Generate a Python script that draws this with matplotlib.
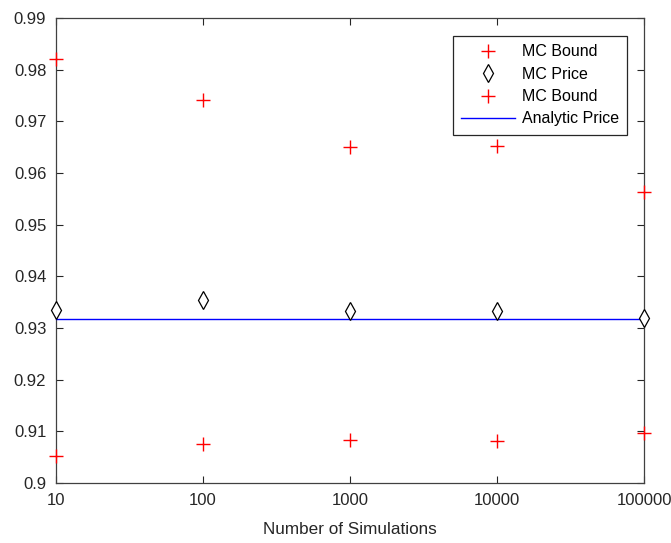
import numpy as np
import matplotlib.pyplot as plt
from matplotlib.ticker import FixedLocator, FixedFormatter, NullLocator

plt.rcParams['font.family'] = ['Liberation Sans', 'DejaVu Sans']

# data
n_sims = [10, 100, 1000, 10000, 100000]
upper_bound = [0.9820, 0.9741, 0.9650, 0.9653, 0.9563]
mc_price = [0.93355, 0.93542, 0.93335, 0.93335, 0.93187]
lower_bound = [0.9052, 0.9076, 0.9084, 0.9082, 0.9097]
analytic_price = 0.93168

xticks = [10, 100, 1000, 10000, 100000]
xtick_labels = ['10', '100', '1000', '10000', '100000']
yticks = [0.9, 0.91, 0.92, 0.93, 0.94, 0.95, 0.96, 0.97, 0.98, 0.99]
ytick_labels = ['0.9', '0.91', '0.92', '0.93', '0.94', '0.95', '0.96', '0.97', '0.98', '0.99']

fig = plt.figure(figsize=(6.71, 5.43), dpi=100)
ax = fig.add_axes([0.0835, 0.1105, 0.8765, 0.8564])

ax.plot(n_sims, upper_bound, '+', color='red', markersize=10, markeredgewidth=1.0,
        clip_on=False, zorder=4, label='MC Bound')
ax.plot(n_sims, mc_price, 'd', color='black', markerfacecolor='white', markersize=9,
        markeredgewidth=0.9, clip_on=False, zorder=4, label='MC Price')
ax.plot(n_sims, lower_bound, '+', color='red', markersize=10, markeredgewidth=1.0,
        clip_on=False, zorder=4, label='MC Bound')
ax.plot([n_sims[0], n_sims[-1]], [analytic_price, analytic_price], '-', color='blue',
        linewidth=1.0, zorder=3, label='Analytic Price')

ax.set_xscale('log')
ax.set_xlim(10, 100000)
ax.set_ylim(0.9, 0.99)
ax.xaxis.set_major_locator(FixedLocator(xticks))
ax.xaxis.set_major_formatter(FixedFormatter(xtick_labels))
ax.xaxis.set_minor_locator(NullLocator())
ax.yaxis.set_major_locator(FixedLocator(yticks))
ax.yaxis.set_major_formatter(FixedFormatter(ytick_labels))

ax.tick_params(direction='in', top=True, right=True, length=5, width=0.8,
               labelsize=12, colors='#262626', pad=7)
for s in ax.spines.values():
    s.set_color('#404040')
    s.set_linewidth(0.9)

ax.set_xlabel('Number of Simulations', fontsize=12.3, color='#262626', labelpad=10)

leg = ax.legend(loc='upper right', bbox_to_anchor=(0.971, 0.961), fontsize=11.5,
                fancybox=False, framealpha=1, edgecolor='#262626',
                handlelength=3.4, handletextpad=0.4, borderpad=0.52,
                labelspacing=0.46, borderaxespad=0.0)
leg.get_frame().set_linewidth(0.9)

fig.savefig('out.png', dpi=100)
